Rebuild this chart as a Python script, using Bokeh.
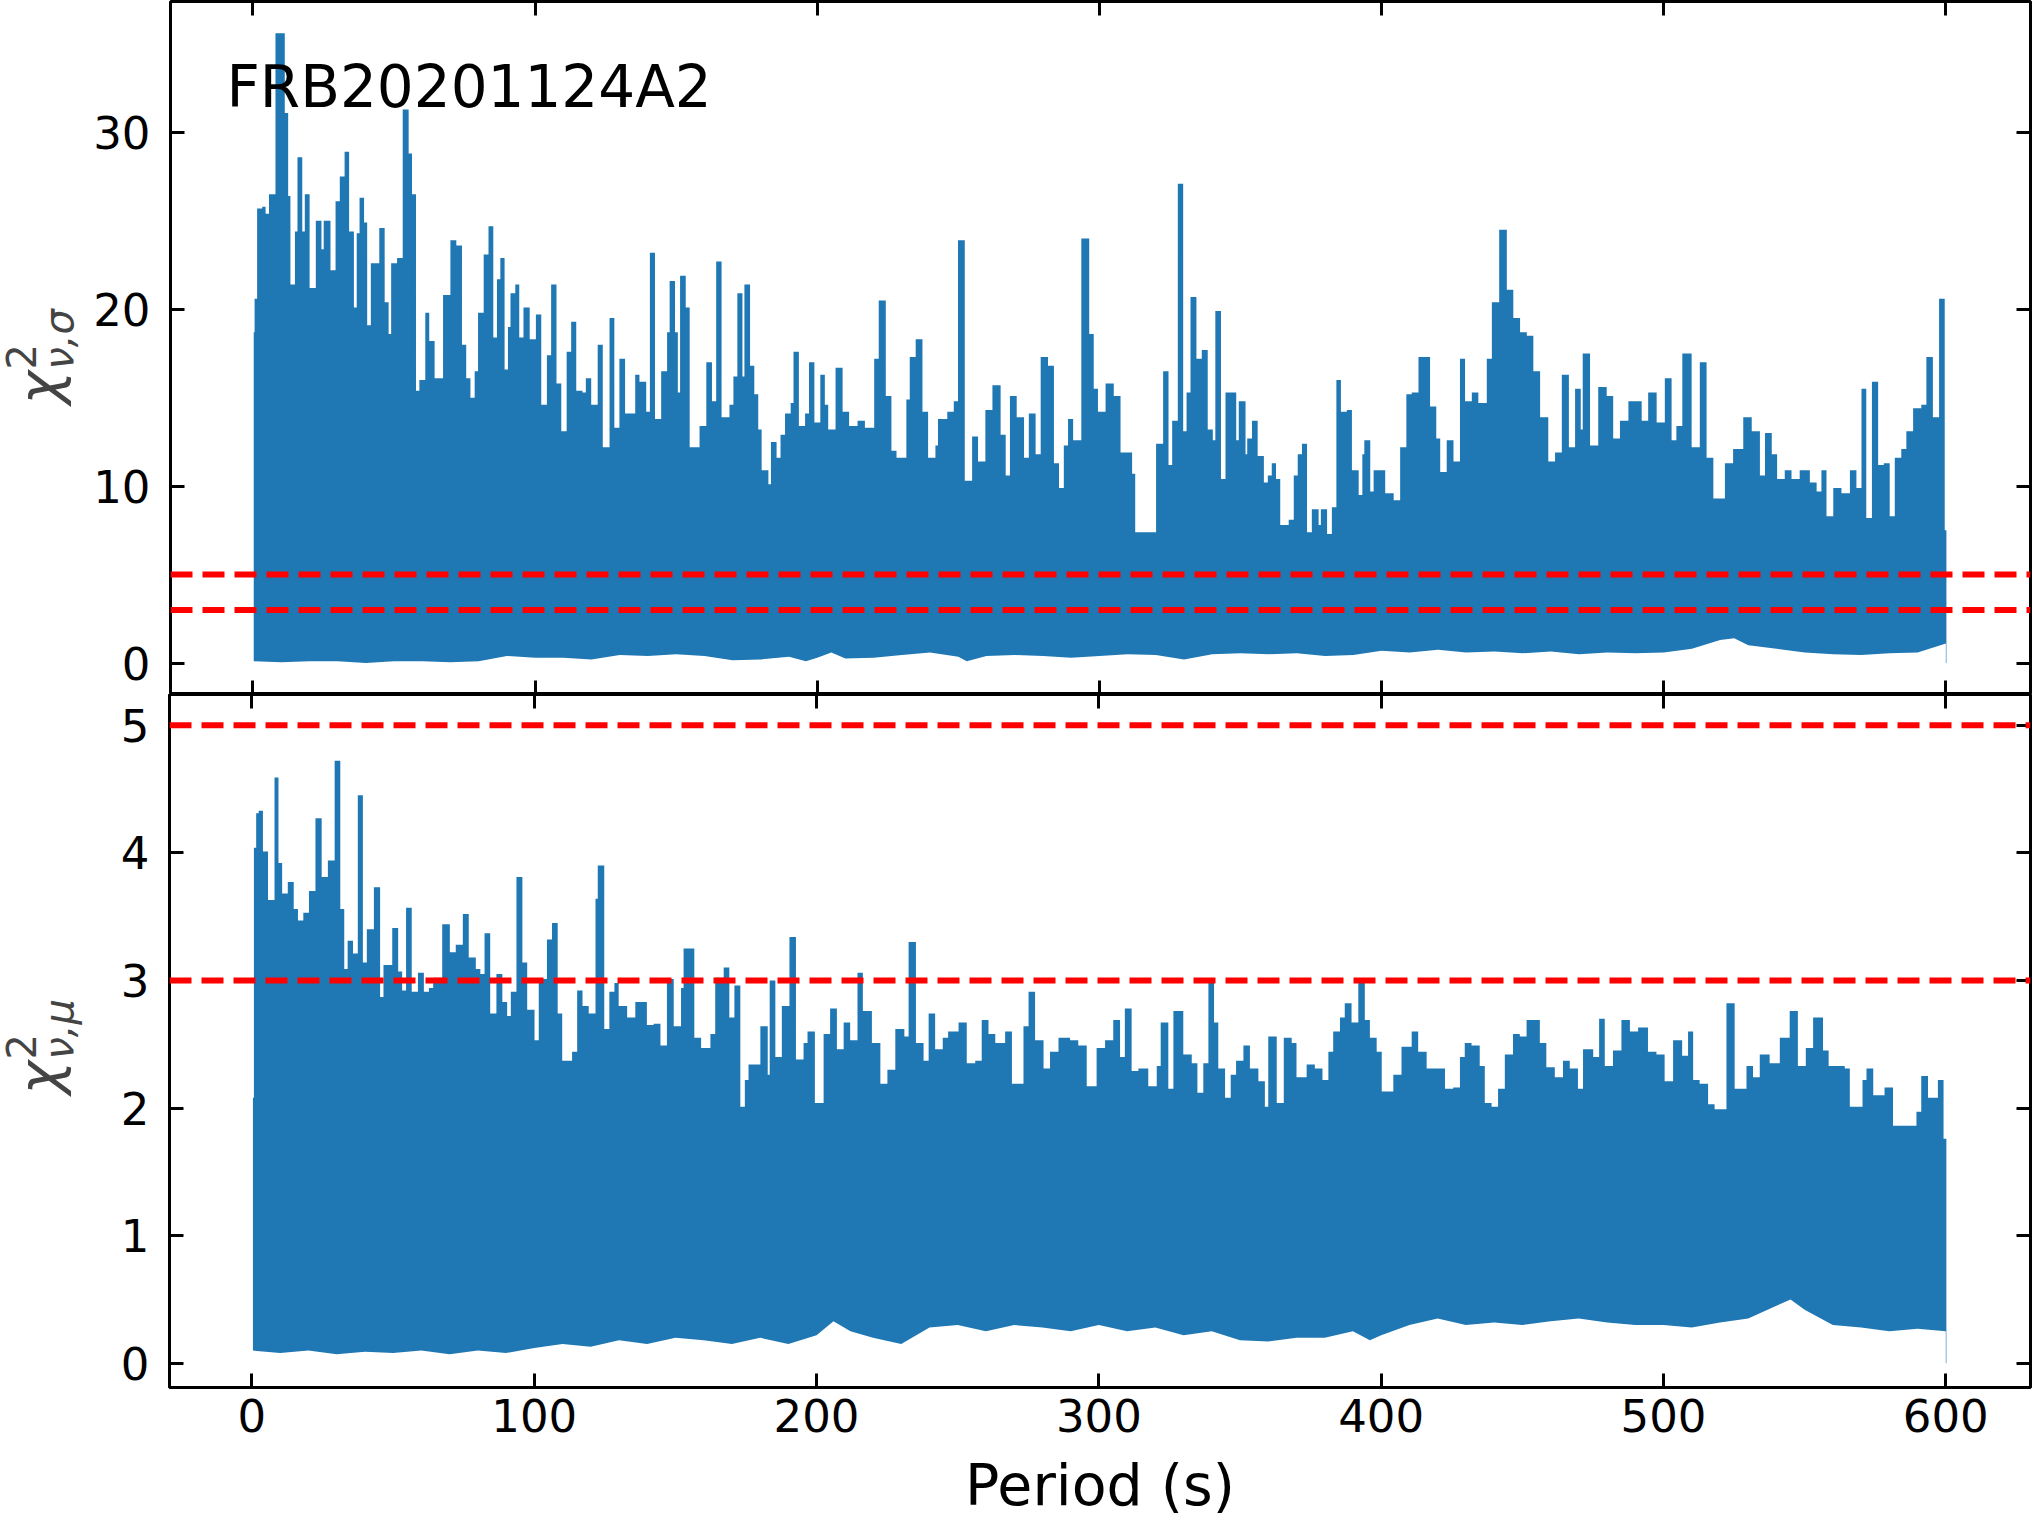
import numpy as np
from bokeh.plotting import figure
from bokeh.models import Range1d, LinearAxis, FixedTicker, Span, Label, CustomJSTickFormatter
from bokeh.layouts import column, row
from bokeh.embed import file_html
from bokeh.resources import INLINE

# ---------------- data ----------------
# upper outline of the chi^2_{nu,sigma} curve (period in s, value)
sigma_period = [0.3, 0.6, 1.5, 3.3, 4.5, 5.7, 8.0, 11.3, 12.5, 13.3, 14.9, 15.8, 17.5, 18.4, 20.1, 22.3, 24.3, 25.1, 27.5, 29.3,
                30.8, 32.5, 34.1, 35.8, 36.8, 37.8, 39.4, 40.5, 41.8, 44.8, 46.7, 48.1, 49.0, 51.1, 53.1, 55.2, 56.4, 57.8, 59.0, 61.1,
                62.5, 64.4, 67.4, 70.0, 72.1, 74.1, 75.6, 77.1, 78.6, 79.8, 81.8, 83.5, 85.2, 86.5, 87.7, 89.2, 90.4, 91.3, 93.0, 94.4,
                95.9, 98.1, 100.3, 102.2, 104.2, 105.7, 107.6, 109.3, 111.2, 112.8, 114.6, 116.8, 118.0, 119.9, 122.2, 124.0, 126.4, 128.1, 129.9, 131.9,
                133.5, 135.5, 137.0, 139.4, 140.7, 142.5, 144.7, 146.8, 147.7, 149.6, 150.6, 151.4, 153.4, 154.8, 158.3, 160.7, 162.7, 164.2, 166.1, 168.9,
                170.3, 171.7, 173.5, 174.2, 176.2, 177.7, 179.1, 180.3, 182.7, 183.6, 185.6, 187.0, 188.6, 190.6, 191.6, 193.5, 195.7, 197.1, 199.0, 201.1,
                202.7, 203.9, 206.5, 209.0, 211.3, 214.3, 216.9, 220.2, 221.8, 224.3, 226.3, 228.1, 231.6, 232.8, 234.9, 237.3, 239.3, 241.9, 242.8, 246.1,
                248.4, 249.9, 252.3, 254.9, 257.0, 259.6, 262.1, 265.0, 266.8, 268.3, 270.7, 273.3, 275.0, 277.4, 279.2, 281.8, 283.9, 285.7, 287.4, 288.9,
                290.7, 293.6, 296.4, 298.0, 299.5, 302.2, 305.1, 307.5, 311.6, 312.7, 320.1, 322.6, 324.5, 325.8, 327.8, 329.7, 330.9, 332.3, 334.4, 336.3,
                338.4, 340.2, 341.1, 343.1, 344.7, 348.5, 349.4, 351.8, 352.4, 354.1, 356.1, 358.3, 359.7, 361.1, 362.6, 364.1, 367.1, 368.9, 370.3, 371.8,
                373.6, 375.3, 377.7, 378.5, 380.7, 382.4, 384.0, 385.6, 387.7, 389.5, 391.9, 393.2, 393.9, 396.0, 397.2, 401.3, 404.3, 406.6, 408.8, 410.7,
                413.1, 417.2, 419.4, 420.8, 423.1, 425.5, 427.8, 429.6, 432.0, 434.3, 437.3, 439.1, 441.7, 444.4, 446.7, 449.1, 451.5, 453.8, 456.2, 459.1,
                461.5, 463.9, 466.4, 468.6, 470.6, 471.3, 473.9, 476.8, 479.8, 482.1, 484.5, 487.5, 492.2, 494.5, 497.5, 500.4, 502.8, 504.5, 506.6, 509.9,
                512.8, 515.2, 517.6, 521.7, 524.6, 528.2, 531.2, 534.1, 535.9, 538.3, 540.2, 542.9, 545.3, 548.2, 551.8, 554.2, 555.9, 557.7, 560.1, 563.0,
                566.0, 568.3, 570.1, 571.8, 573.8, 576.0, 578.0, 580.1, 581.9, 584.2, 586.0, 588.4, 591.3, 593.1, 595.4, 597.6, 599.6, 600.2]
sigma_chi2 = [18.7, 20.6, 25.7, 25.8, 25.4, 26.5, 35.6, 31.1, 26.4, 21.4, 24.4, 28.6, 24.4, 26.5, 21.2, 25.0, 23.4, 25.0, 22.2, 26.1,
              27.5, 28.9, 24.4, 20.1, 24.3, 26.3, 24.9, 19.1, 22.6, 24.6, 20.4, 18.6, 22.6, 22.9, 31.3, 28.8, 26.5, 15.4, 16.0, 19.8,
              18.2, 16.1, 20.8, 23.9, 23.6, 18.0, 16.1, 15.0, 16.5, 19.8, 23.1, 24.7, 18.4, 21.7, 22.9, 16.6, 19.0, 20.9, 21.4, 18.4,
              20.1, 18.3, 19.7, 14.6, 17.4, 21.4, 15.8, 13.1, 17.6, 19.3, 15.4, 15.3, 16.1, 14.6, 18.0, 12.2, 19.5, 13.3, 17.2, 14.1,
              14.1, 16.3, 15.9, 14.2, 23.2, 13.8, 16.5, 18.7, 21.6, 18.7, 15.3, 21.9, 20.1, 12.2, 13.4, 17.0, 14.8, 22.7, 13.9, 14.6,
              16.2, 20.9, 16.2, 21.4, 16.8, 15.2, 13.2, 10.9, 10.1, 12.5, 11.6, 12.9, 14.1, 14.7, 17.6, 13.4, 14.1, 17.0, 13.6, 16.3,
              14.6, 13.2, 16.7, 14.2, 13.4, 13.7, 13.3, 17.2, 20.5, 15.1, 12.0, 11.6, 14.9, 17.3, 18.3, 14.2, 11.6, 12.3, 13.8, 14.2,
              14.8, 23.9, 10.3, 12.8, 11.4, 14.3, 15.7, 12.9, 10.6, 15.1, 13.9, 11.6, 14.1, 11.8, 17.3, 16.8, 11.3, 9.9, 12.3, 13.8,
              12.6, 24.0, 18.6, 15.5, 14.2, 15.8, 15.1, 11.9, 10.7, 7.4, 12.4, 16.5, 11.2, 13.7, 27.1, 13.1, 15.3, 20.7, 17.2, 17.7,
              13.2, 12.6, 19.9, 10.4, 15.3, 12.6, 14.8, 11.8, 12.7, 13.7, 11.7, 10.2, 10.6, 11.3, 10.4, 7.8, 8.1, 10.6, 11.8, 12.4,
              7.4, 8.7, 7.8, 8.7, 7.3, 8.8, 16.0, 14.2, 14.3, 10.9, 9.5, 11.8, 12.6, 9.7, 10.9, 9.6, 9.2, 12.2, 15.2, 15.3,
              17.3, 14.5, 12.7, 10.8, 12.6, 11.4, 17.2, 14.8, 15.3, 14.7, 17.2, 20.4, 24.5, 21.1, 19.5, 18.7, 18.5, 16.5, 13.9, 11.4,
              11.9, 16.3, 12.2, 15.5, 13.2, 17.5, 12.3, 15.6, 15.1, 12.7, 13.7, 14.8, 13.7, 15.3, 13.6, 16.1, 12.6, 13.4, 17.5, 12.2,
              17.0, 11.6, 9.3, 11.3, 12.1, 13.9, 13.1, 10.6, 13.0, 11.8, 10.4, 10.9, 10.4, 10.9, 10.2, 9.7, 10.9, 8.3, 9.9, 9.6,
              10.9, 9.9, 15.5, 8.2, 15.9, 11.2, 11.3, 8.3, 11.6, 12.1, 13.1, 14.4, 14.6, 17.3, 13.9, 20.6, 7.5, 7.5]

# lower outline of the chi^2_{nu,sigma} curve
sigma_floor_period = [0, 10, 20, 30, 40, 50, 60, 70, 80, 90, 100, 110, 120, 130, 140, 150, 160, 170, 180, 190,
                      196, 200, 205, 210, 220, 230, 240, 250, 253, 260, 270, 280, 290, 300, 310, 320, 330, 340, 350, 360,
                      370, 380, 390, 400, 410, 420, 430, 440, 450, 460, 470, 480, 490, 500, 510, 520, 525, 530, 540, 550,
                      560, 570, 580, 590, 600]
sigma_floor = [0.1, 0.05, 0.1, 0.1, 0.0, 0.1, 0.1, 0.05, 0.1, 0.4, 0.3, 0.3, 0.2, 0.45, 0.4, 0.5, 0.4, 0.15, 0.2, 0.35,
               0.1, 0.3, 0.6, 0.25, 0.3, 0.45, 0.6, 0.35, 0.1, 0.4, 0.45, 0.4, 0.3, 0.4, 0.5, 0.45, 0.2, 0.5, 0.55, 0.5,
               0.55, 0.4, 0.45, 0.7, 0.6, 0.75, 0.6, 0.65, 0.55, 0.65, 0.5, 0.6, 0.55, 0.6, 0.8, 1.3, 1.4, 1.0, 0.8, 0.6,
               0.5, 0.45, 0.55, 0.6, 1.1]

# upper outline of the chi^2_{nu,mu} curve
mu_period = [0.35, 0.7, 1.5, 2.4, 3.9, 5.7, 8.0, 9.4, 10.7, 12.7, 14.8, 16.3, 18.2, 20.2, 22.5, 24.7, 26.9, 29.3, 31.3, 32.7,
             33.9, 35.8, 37.5, 39.3, 40.7, 43.2, 45.4, 46.6, 49.7, 51.8, 53.2, 54.6, 56.6, 58.8, 60.9, 62.7, 64.2, 67.4, 70.1, 72.2,
             74.7, 76.8, 79.3, 80.9, 82.4, 84.4, 86.6, 88.7, 90.4, 91.7, 93.7, 95.8, 97.5, 100.1, 101.6, 104.5, 106.3, 108.3, 109.9, 113.4,
             115.2, 117.1, 119.3, 121.7, 122.5, 124.8, 126.6, 128.4, 129.9, 132.9, 135.8, 139.9, 142.3, 144.7, 147.0, 149.4, 152.0, 152.9, 156.7, 159.1,
             162.4, 164.1, 167.1, 169.1, 170.9, 173.0, 174.6, 175.9, 180.1, 182.7, 183.4, 185.4, 187.7, 190.4, 192.7, 195.4, 196.8, 199.4, 202.5, 204.8,
             207.2, 209.6, 211.9, 214.5, 216.4, 219.6, 222.6, 225.1, 227.9, 231.1, 232.6, 235.2, 237.9, 239.7, 242.0, 244.7, 246.6, 250.3, 253.2, 256.2,
             258.5, 260.9, 263.3, 266.8, 269.2, 273.3, 275.1, 277.4, 280.4, 282.7, 285.7, 289.8, 292.7, 295.7, 299.2, 302.2, 305.1, 307.5, 309.2, 311.6,
             314.0, 317.5, 320.5, 321.9, 324.6, 326.4, 329.9, 332.9, 334.9, 337.0, 338.8, 340.8, 342.3, 344.7, 346.7, 348.6, 351.2, 353.5, 356.5, 358.8,
             360.0, 363.0, 365.5, 368.3, 370.0, 373.6, 376.5, 379.2, 381.3, 383.0, 385.4, 387.1, 389.5, 391.9, 394.2, 396.0, 398.4, 400.2, 404.3, 407.2,
             410.8, 413.1, 416.1, 420.2, 422.6, 425.5, 427.9, 429.6, 432.0, 434.9, 436.7, 439.1, 441.4, 443.8, 446.7, 449.1, 451.5, 456.2, 458.5, 461.5,
             464.4, 466.8, 469.7, 471.5, 475.1, 477.2, 479.2, 482.1, 485.1, 488.1, 491.0, 494.5, 497.5, 500.4, 503.4, 506.6, 508.7, 510.5, 512.8, 515.8,
             518.1, 522.3, 525.2, 529.4, 531.7, 534.1, 537.6, 541.2, 544.7, 547.6, 550.4, 553.0, 556.5, 558.5, 564.2, 566.0, 570.5, 571.9, 574.3, 578.3,
             581.3, 587.2, 589.6, 591.3, 593.7, 597.2, 599.2, 600.2]
mu_chi2 = [2.08, 4.04, 4.31, 4.33, 4.01, 3.63, 4.59, 3.92, 3.68, 3.77, 3.56, 3.47, 3.53, 3.70, 4.27, 3.81, 3.94, 4.72, 3.56, 3.09,
           3.31, 3.21, 4.45, 3.14, 3.40, 3.73, 2.87, 3.12, 3.41, 3.07, 2.92, 3.57, 2.91, 3.06, 2.91, 2.94, 3.02, 3.44, 3.22, 3.28,
           3.52, 3.18, 3.09, 3.05, 3.37, 2.74, 3.05, 2.83, 2.72, 2.91, 3.81, 3.14, 2.77, 2.53, 3.01, 3.32, 3.45, 2.74, 2.37, 2.44,
           2.92, 2.80, 2.74, 3.64, 3.90, 2.62, 2.91, 2.98, 2.80, 2.71, 2.83, 2.65, 2.66, 2.49, 3.01, 2.64, 2.94, 3.25, 2.55, 2.47,
           2.58, 3.02, 3.10, 2.71, 2.96, 2.01, 2.22, 2.34, 2.64, 2.26, 3.00, 2.40, 2.80, 3.34, 2.38, 2.51, 2.60, 2.04, 2.58, 2.78,
           2.46, 2.67, 2.53, 3.06, 2.76, 2.51, 2.19, 2.30, 2.62, 2.56, 3.30, 2.51, 2.37, 2.74, 2.46, 2.55, 2.60, 2.67, 2.35, 2.37,
           2.69, 2.58, 2.51, 2.60, 2.19, 2.64, 2.91, 2.53, 2.31, 2.44, 2.55, 2.53, 2.49, 2.17, 2.47, 2.53, 2.69, 2.40, 2.78, 2.29,
           2.31, 2.17, 2.33, 2.67, 2.15, 2.76, 2.42, 2.35, 2.12, 2.35, 2.99, 2.67, 2.31, 2.08, 2.26, 2.37, 2.49, 2.31, 2.21, 2.01,
           2.56, 2.04, 2.55, 2.51, 2.24, 2.34, 2.31, 2.22, 2.44, 2.60, 2.71, 2.82, 2.67, 3.01, 2.69, 2.55, 2.44, 2.13, 2.26, 2.48,
           2.60, 2.44, 2.31, 2.31, 2.15, 2.16, 2.40, 2.51, 2.49, 2.33, 2.04, 2.01, 2.15, 2.42, 2.58, 2.56, 2.69, 2.51, 2.32, 2.24,
           2.37, 2.31, 2.15, 2.46, 2.40, 2.70, 2.33, 2.45, 2.69, 2.60, 2.63, 2.44, 2.42, 2.21, 2.53, 2.41, 2.60, 2.22, 2.19, 2.03,
           1.99, 2.82, 2.15, 2.33, 2.24, 2.42, 2.35, 2.55, 2.76, 2.33, 2.47, 2.71, 2.45, 2.33, 2.31, 2.01, 2.22, 2.31, 2.10, 2.16,
           1.86, 1.86, 1.97, 2.25, 2.08, 2.22, 1.76, 1.76]

# lower outline of the chi^2_{nu,mu} curve
mu_floor_period = [0, 10, 20, 30, 40, 50, 60, 70, 80, 90, 100, 110, 120, 130, 140, 150, 160, 170, 180, 190,
                   200, 206, 212, 220, 230, 240, 250, 260, 270, 280, 290, 300, 310, 320, 330, 340, 350, 360, 370, 380,
                   390, 396, 400, 410, 420, 430, 440, 450, 460, 470, 480, 490, 500, 510, 520, 530, 540, 545, 550, 560,
                   570, 580, 590, 600]
mu_floor = [0.1, 0.08, 0.1, 0.07, 0.09, 0.08, 0.1, 0.07, 0.1, 0.08, 0.12, 0.15, 0.13, 0.18, 0.15, 0.2, 0.18, 0.15, 0.2, 0.15,
            0.22, 0.33, 0.25, 0.2, 0.15, 0.28, 0.3, 0.25, 0.3, 0.28, 0.25, 0.3, 0.25, 0.28, 0.22, 0.25, 0.18, 0.17, 0.2, 0.2,
            0.25, 0.18, 0.22, 0.3, 0.35, 0.3, 0.32, 0.3, 0.33, 0.35, 0.32, 0.3, 0.3, 0.28, 0.32, 0.35, 0.45, 0.5, 0.42, 0.3,
            0.28, 0.25, 0.27, 0.25]

sigma_thresholds = [3, 5]
mu_thresholds = [3, 5]
period_ticks = [0, 100, 200, 300, 400, 500, 600]
sigma_ticks = [0, 10, 20, 30]
mu_ticks = [0, 1, 2, 3, 4, 5]
source_name = "FRB20201124A2"

# ---------------- styling ----------------
BLUE = "#1f77b4"
FONT = "DejaVu Sans"
TICK_PX = "45px"
LABEL_PX = "57px"
LEFT_STRIP = 90          # width of the strip that carries the rotated y labels

x_range = Range1d(-29.2, 630)


def make_axis(ticks, labelled):
    ax = LinearAxis(ticker=FixedTicker(ticks=ticks))
    ax.major_tick_in = 14
    ax.major_tick_out = 0
    ax.major_tick_line_width = 3
    ax.major_tick_line_color = "black"
    ax.minor_tick_line_color = None
    ax.axis_line_color = None
    ax.major_label_text_font = FONT
    ax.major_label_text_font_size = TICK_PX
    ax.major_label_text_color = "black"
    if not labelled:
        ax.formatter = CustomJSTickFormatter(code="return ''")
        ax.major_label_standoff = 0
    return ax


def base_fig(height, y_range, border_top, border_bottom):
    p = figure(width=2032 - LEFT_STRIP, height=height, x_range=x_range, y_range=y_range,
               output_backend="svg", toolbar_location=None,
               x_axis_location=None, y_axis_location=None,
               min_border_left=169 - LEFT_STRIP, min_border_right=2,
               min_border_top=border_top, min_border_bottom=border_bottom)
    p.grid.grid_line_color = None
    p.background_fill_color = "white"
    p.border_fill_color = "white"
    p.outline_line_color = "black"
    p.outline_line_width = 3
    p.outline_line_alpha = 1.0
    return p


def blank_fig(width, height):
    p = figure(width=width, height=height, x_range=Range1d(0, 1), y_range=Range1d(0, 1),
               output_backend="svg", toolbar_location=None,
               x_axis_location=None, y_axis_location=None,
               min_border_left=0, min_border_right=0, min_border_top=0, min_border_bottom=0)
    p.grid.grid_line_color = None
    p.outline_line_color = None
    p.background_fill_color = "white"
    p.border_fill_color = "white"
    return p


def draw_curve(p, xs, ys, fx, fy, mask_bottom):
    try:
        p.varea_step(x=xs, y1=0.0, y2=ys, step_mode="after", fill_color=BLUE)
    except AttributeError:
        sx = np.repeat(np.asarray(xs, float), 2)[1:]
        sy = np.repeat(np.asarray(ys, float), 2)[:-1]
        p.varea(x=sx, y1=0.0, y2=sy, fill_color=BLUE)
    p.varea(x=fx, y1=mask_bottom, y2=fy, fill_color="white")


def add_ylabel(p, sub, y0):
    # rotated chi^2_{nu,x} label, drawn as three text pieces
    p.add_layout(Label(x=38, y=y0, x_units="screen", y_units="screen", text="χ",
                       angle=90, angle_units="deg", text_font=FONT, text_font_size="57px",
                       text_font_style="italic", text_align="left", text_baseline="alphabetic"))
    p.add_layout(Label(x=20, y=y0 + 35, x_units="screen", y_units="screen", text="2",
                       angle=90, angle_units="deg", text_font=FONT, text_font_size="40px",
                       text_align="left", text_baseline="alphabetic"))
    p.add_layout(Label(x=58, y=y0 + 35, x_units="screen", y_units="screen", text="ν," + sub,
                       angle=90, angle_units="deg", text_font=FONT, text_font_size="40px",
                       text_font_style="italic", text_align="left", text_baseline="alphabetic"))


# ---------------- top panel ----------------
top = base_fig(694, Range1d(-1.78, 37.4), 1, 0)
top.add_layout(make_axis(sigma_ticks, True), "left")
top.add_layout(make_axis(sigma_ticks, False), "right")
top.add_layout(make_axis(period_ticks, False), "above")
top.add_layout(make_axis(period_ticks, False), "below")
top.yaxis.major_label_standoff = 20
draw_curve(top, sigma_period, sigma_chi2, sigma_floor_period, sigma_floor, -0.3)
for t in sigma_thresholds:
    top.add_layout(Span(location=t, dimension="width", line_color="#ff0000",
                        line_width=6, line_dash="22 10"))
top.add_layout(Label(x=56, y=608, x_units="screen", y_units="screen", text=source_name,
                     text_font=FONT, text_font_size="58px", text_color="black",
                     text_baseline="alphabetic"))
ylab_top = blank_fig(LEFT_STRIP, 694)
add_ylabel(ylab_top, "σ", 290)

# ---------------- bottom panel ----------------
bot = base_fig(757, Range1d(-0.19, 5.24), 0, 64)
bot.add_layout(make_axis(mu_ticks, True), "left")
bot.add_layout(make_axis(mu_ticks, False), "right")
bot.add_layout(make_axis(period_ticks, False), "above")
xb = make_axis(period_ticks, True)
xb.major_label_standoff = 11
bot.add_layout(xb, "below")
for ax in bot.left:
    ax.major_label_standoff = 20
draw_curve(bot, mu_period, mu_chi2, mu_floor_period, mu_floor, -0.05)
for t in mu_thresholds:
    bot.add_layout(Span(location=t, dimension="width", line_color="#ff0000",
                        line_width=6, line_dash="22 10"))
ylab_bot = blank_fig(LEFT_STRIP, 757)
add_ylabel(ylab_bot, "μ", 293)

# ---------------- x-axis title strip ----------------
xlab = blank_fig(2032, 69)
xlab.add_layout(Label(x=1099.5, y=36, x_units="screen", y_units="screen", text="Period (s)",
                      text_font=FONT, text_font_size=LABEL_PX, text_color="black",
                      text_align="center", text_baseline="alphabetic"))

layout = column(row(ylab_top, top, spacing=0), row(ylab_bot, bot, spacing=0), xlab, spacing=0)
open("out.html", "w").write(file_html(layout, INLINE))
